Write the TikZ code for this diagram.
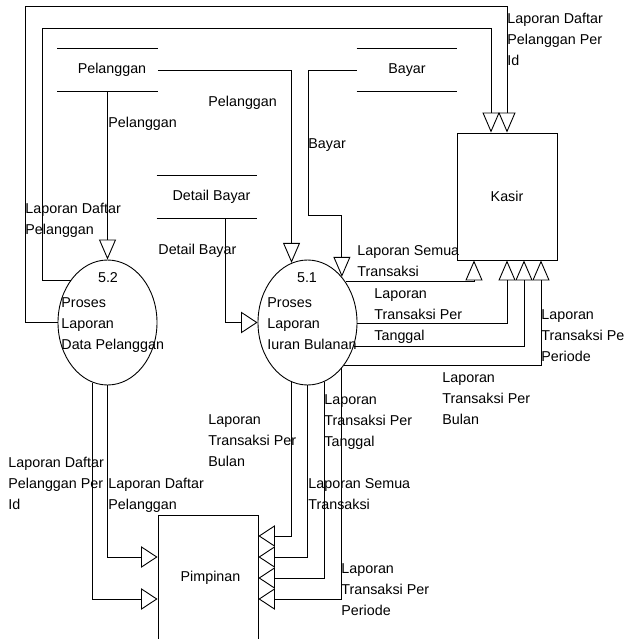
\documentclass[tikz,border=0pt]{standalone}
\usepackage{fontspec}
\setmainfont{Liberation Sans}
\usetikzlibrary{arrows.meta,shapes.geometric}
\begin{document}
\begin{tikzpicture}[x=1pt,y=-1pt,line width=0.9pt,
  every node/.style={inner sep=0pt, font=\fontsize{14.3}{21}\selectfont},
  lbl/.style={anchor=north west, align=left},
  proc/.style={draw, ellipse, minimum width=99pt, minimum height=125pt},
  ent/.style={draw, rectangle, minimum width=100pt, minimum height=127pt},
  store/.style={minimum width=100pt, minimum height=42pt},
  va/.style={-{Triangle[open, length=20pt, width=17pt]}},
  ha/.style={-{Triangle[open, length=16.5pt, width=21.5pt]}},
]
\useasboundingbox (0,0) rectangle (624,639);

% data stores
\node[store] (pel) at (107.5,70) {\hspace*{9pt}Pelanggan};
\node[store] (bay) at (407,70) {Bayar};
\node[store] (det) at (207,197) {\hspace*{9pt}Detail Bayar};
\foreach \s in {pel,bay,det} \draw (\s.north west) -- (\s.north east) (\s.south west) -- (\s.south east);

% entities
\node[ent] (kas) at (507,196.5) {Kasir};
\node[ent, minimum height=126pt] (pim) at (208,578) {\hspace*{5pt}Pimpinan};

% processes
\node[proc] (p52) at (107.5,322.5) {};
\node[proc] (p51) at (307.5,322.5) {};
\node[anchor=north] (n52) at (108,272) {5.2};
\node[lbl] (t52) at (61,297) {Proses\\Laporan\\Data Pelanggan};
\node[anchor=north] (n51) at (307,272) {5.1};
\node[lbl] (t51) at (267,297) {Proses\\Laporan\\Iuran Bulanan};

\coordinate (c1) at (25,6);
\coordinate (c2) at (42,28);
\coordinate (b1) at (308,215);

% connectors
\draw[va] (pel.south) -- (p52.north);
\draw[va] (pel.east) -| (p51.105.6);
\draw[va] (bay.west) -| (b1) -| (p51.53.9);
\draw[ha] (det.south) ++(18,0) |- (p51.west);
\draw[va] (p52.west) -| (c1) -| (kas.north);
\draw[va] (p52.131.7) -| (c2) -| ([xshift=-16pt]kas.north);
\draw[va] (p51.47) -| ([xshift=-33pt]kas.south);
\draw[va] (p51.-1.4) -| (kas.south);
\draw[va] (p51.-27.1) -| ([xshift=17pt]kas.south);
\draw[va] (p51.-50.8) -| ([xshift=34pt]kas.south);
\draw[ha] (p52.south) |- ([yshift=21pt]pim.west);
\draw[ha] (p52.-104.6) |- ([yshift=-21pt]pim.west);
\draw[ha] (p51.-105.6) |- ([yshift=42pt]pim.east);
\draw[ha] (p51.south) |- ([yshift=21pt]pim.east);
\draw[ha] (p51.-74.4) |- (pim.east);
\draw[ha] (p51.-53.9) |- ([yshift=-21pt]pim.east);

% labels
\node[lbl] (l1) at (507,13) {Laporan Daftar\\Pelanggan Per\\Id};
\node[lbl] (l2) at (208,96) {Pelanggan};
\node[lbl] (l3) at (108,117) {Pelanggan};
\node[lbl] (l4) at (308,138) {Bayar};
\node[lbl] (l5) at (25,203) {Laporan Daftar\\Pelanggan};
\node[lbl] (l6) at (158,244) {Detail Bayar};
\node[lbl] (l7) at (357,245) {Laporan Semua\\Transaksi};
\node[lbl] (l8) at (374,288) {Laporan\\Transaksi Per\\Tanggal};
\node[lbl] (l9) at (541,309) {Laporan\\Transaksi Per\\Periode};
\node[lbl] (l10) at (442,372) {Laporan\\Transaksi Per\\Bulan};
\node[lbl] (l11) at (324,394) {Laporan\\Transaksi Per\\Tanggal};
\node[lbl] (l12) at (208,414) {Laporan\\Transaksi Per\\Bulan};
\node[lbl] (l13) at (8,457) {Laporan Daftar\\Pelanggan Per\\Id};
\node[lbl] (l14) at (108,478) {Laporan Daftar\\Pelanggan};
\node[lbl] (l15) at (308,478) {Laporan Semua\\Transaksi};
\node[lbl] (l16) at (341,563) {Laporan\\Transaksi Per\\Periode};
\end{tikzpicture}
\end{document}
